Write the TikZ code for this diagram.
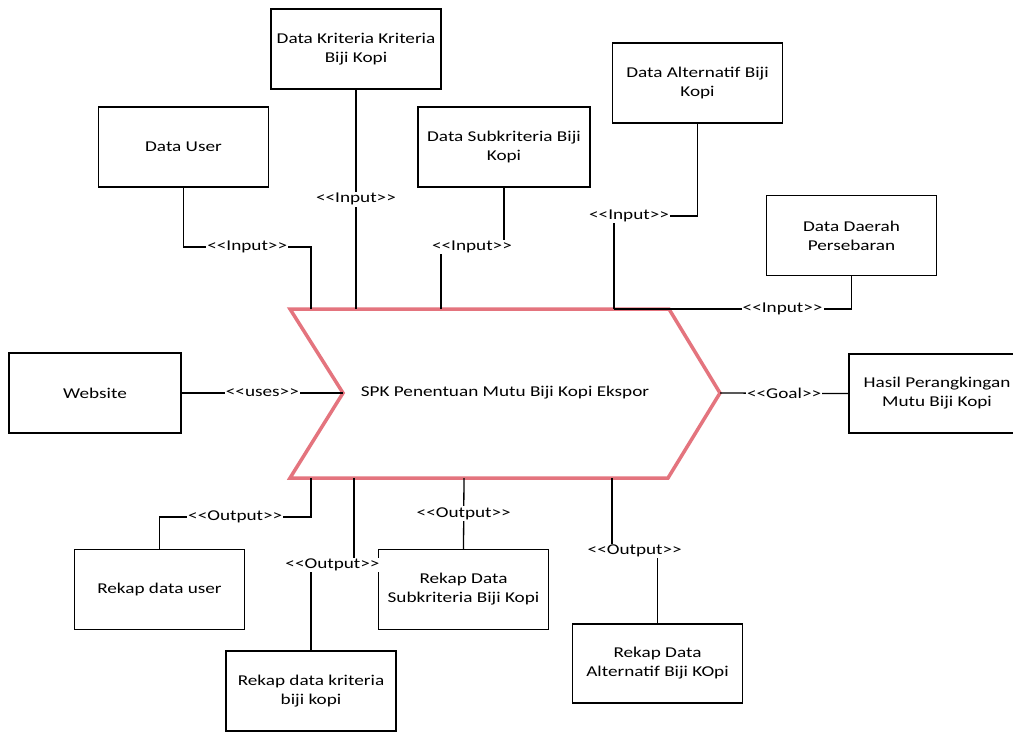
\documentclass[tikz,border=0pt]{standalone}
\usepackage{fontspec}
\setmainfont[FakeStretch=1.28]{Carlito}
\definecolor{chevron}{RGB}{228,116,126}
\newcommand\stereo[1]{{<}{<}#1{>}{>}}
\begin{document}
\begin{tikzpicture}[x=1pt,y=-1pt,
  box/.style={draw=black, line width=1.5pt, minimum width=170pt, minimum height=80pt,
    align=center, inner sep=2pt, font=\fontsize{15}{19}\selectfont},
  lbl/.style={fill=white, inner sep=1.2pt, font=\fontsize{15}{17}\selectfont},
  link/.style={line width=1.3pt, line join=miter}]
\clip (0,0) rectangle (1013,732);
\fill[white] (0,0) rectangle (1013,732);

% central use case: a chevron
\draw[chevron, line width=3.5pt, line join=miter]
  (290,309) -- (669,309) -- (720,393) -- (668,478) -- (290,478) -- (343,393) -- cycle;
\node (spk) at (505,393) {\fontsize{15}{17}\selectfont SPK Penentuan Mutu Biji Kopi Ekspor};
\coordinate (notchL) at (343,393);
\coordinate (tipR) at (720,393);

% actors and data stores
\node[box] (user)   at (183.5,147)   {Data User};
\node[box] (krit)   at (356,49)      {Data Kriteria Kriteria\\Biji Kopi};
\node[box, minimum width=172pt] (sub) at (504,147) {Data Subkriteria Biji\\Kopi};
\node[box] (alt)    at (697.5,83)    {Data Alternatif Biji\\Kopi};
\node[box] (daerah) at (851.5,235.5) {Data Daerah\\Persebaran};
\node[box, minimum width=172pt] (web) at (95,393) {Website};
\node[box, minimum width=176pt, minimum height=79pt] (hasil) at (937,393.5) {Hasil Perangkingan\\Mutu Biji Kopi};
\node[box] (ruser)  at (159.5,589.5) {Rekap data user};
\node[box] (rkrit)  at (311,691)     {Rekap data kriteria\\biji kopi};
\node[box] (rsub)   at (463.5,589.5) {Rekap Data\\Subkriteria Biji Kopi};
\node[box, minimum height=79pt] (ralt) at (657.5,663.5) {Rekap Data\\Alternatif Biji KOpi};

% attachment points on the chevron
\coordinate (t1) at (311,309);
\coordinate (t2) at (356,309);
\coordinate (t3) at (441,309);
\coordinate (t4) at (614,309);
\coordinate (b1) at (311,478);
\coordinate (b2) at (354,478);
\coordinate (b3) at (464,478);
\coordinate (b4) at (612,478);

% inputs
\draw[link] (user.south) -- (183.5,247) -- node[lbl] (l1) {\stereo{Input}} (311,247) -- (t1);
\draw[link] (krit.south) -- node[lbl, pos=0.5] (l2) {\stereo{Input}} (t2);
\draw[link] (sub.south) |- (441,247) -- (t3);
\node[lbl] (l3) at (472,247) {\stereo{Input}};
\draw[link] (alt.south) -- (697.5,216) -- node[lbl, pos=0.82] (l4) {\stereo{Input}} (t4 |- 0,216) -- (t4);
\draw[link] (daerah.south) -- (851.5,309) -- node[lbl, pos=0.29] (l5) {\stereo{Input}} (t4);

% uses and goal
\draw[link] (web.east) -- node[lbl] (l6) {\stereo{uses}} (notchL);
\draw[link] (tipR) -- node[lbl] (l7) {\stereo{Goal}} (hasil.west);

% outputs
\draw[link] (b1) -- (311,517) -- node[lbl] (l8) {\stereo{Output}} (159.5,517) -- (ruser.north);
\draw[link] (b2) -- (354,565) -- node[lbl] (l9) {\stereo{Output}} (311,565) -- (rkrit.north);
\draw[link] (b3) -- node[lbl] (l10) {\stereo{Output}} (rsub.north);
\draw[link] (b4) -- (612,551) -- node[lbl] (l11) {\stereo{Output}} (657.5,551) -- (ralt.north);
\end{tikzpicture}
\end{document}
